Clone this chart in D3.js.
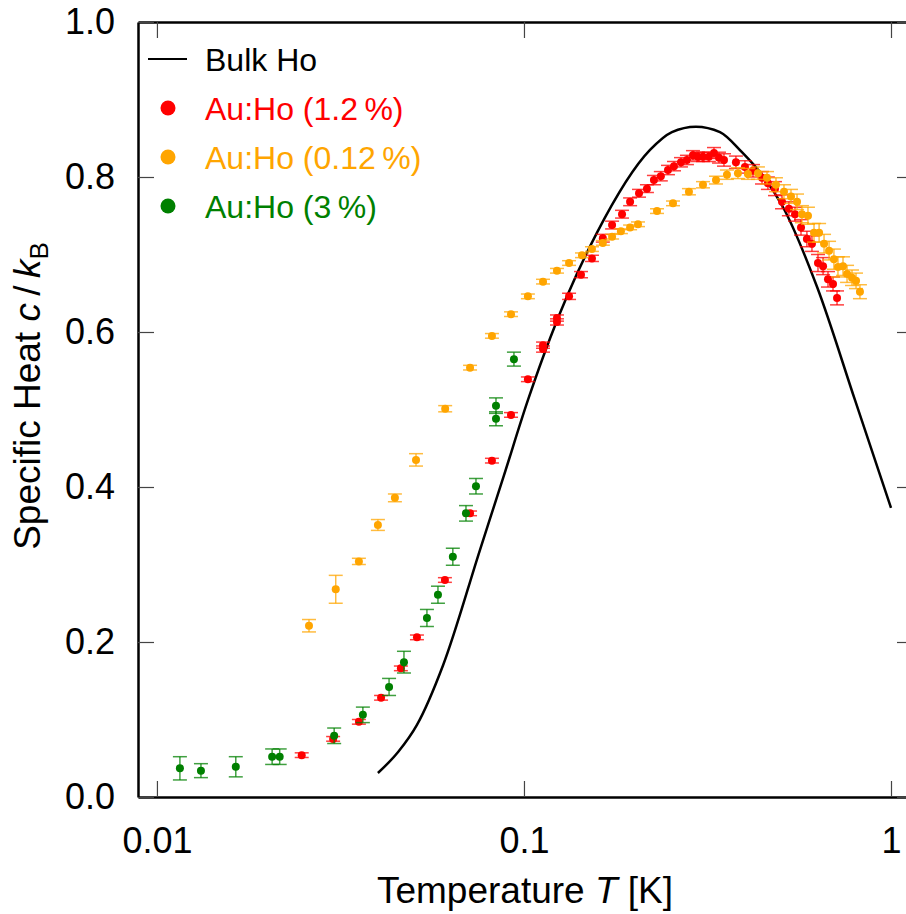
<!DOCTYPE html>
<html>
<head>
<meta charset="utf-8">
<script src="https://cdn.jsdelivr.net/npm/d3@7"></script>
<style>
  body { margin: 0; background: #fff; }
  svg { display: block; font-family: "Liberation Sans", Arial, Helvetica, sans-serif; }
</style>
</head>
<body>
<svg id="chart"></svg>
<script>
// Bulk Ho curve: temperature [K] and c/kB
const bulkT = [0.040, 0.0454, 0.0511, 0.0602, 0.0759, 0.0882, 0.1025, 0.1178, 0.158, 0.2205, 0.253, 0.294, 0.342, 0.3926, 0.445, 0.508, 0.629, 0.798, 1.0];
const bulkC = [0.031, 0.058, 0.093, 0.170, 0.319, 0.415, 0.512, 0.592, 0.728, 0.835, 0.858, 0.865, 0.858, 0.832, 0.803, 0.761, 0.658, 0.512, 0.373];

// Au:Ho (1.2 %) : [T, c, error]
const red12 = [
  [0.0248, 0.054, 0.003], [0.0302, 0.075, 0.003], [0.0355, 0.097, 0.003], [0.0408, 0.128, 0.003],
  [0.0462, 0.166, 0.003], [0.0511, 0.206, 0.003], [0.0609, 0.280, 0.003], [0.0713, 0.366, 0.003],
  [0.0818, 0.434, 0.003], [0.0922, 0.493, 0.003], [0.1025, 0.539, 0.003], [0.1127, 0.583, 0.004],
  [0.1127, 0.578, 0.004], [0.123, 0.618, 0.004], [0.123, 0.613, 0.004], [0.1327, 0.646, 0.004],
  [0.143, 0.674, 0.004], [0.1532, 0.695, 0.004], [0.164, 0.721, 0.005], [0.1738, 0.738, 0.005],
  [0.185, 0.752, 0.005], [0.1946, 0.768, 0.005], [0.2058, 0.779, 0.005], [0.2163, 0.785, 0.005],
  [0.226, 0.796, 0.006], [0.236, 0.801, 0.006], [0.2468, 0.809, 0.006], [0.2563, 0.814, 0.006],
  [0.2678, 0.819, 0.006], [0.278, 0.822, 0.006], [0.2887, 0.828, 0.006], [0.2979, 0.826, 0.006],
  [0.3074, 0.826, 0.006], [0.319, 0.826, 0.006], [0.3294, 0.831, 0.007], [0.3399, 0.825, 0.007],
  [0.3507, 0.822, 0.008], [0.378, 0.819, 0.008], [0.400, 0.813, 0.008], [0.4207, 0.808, 0.008],
  [0.4452, 0.799, 0.008], [0.462, 0.792, 0.008], [0.483, 0.785, 0.009], [0.5047, 0.768, 0.009],
  [0.527, 0.759, 0.009], [0.5476, 0.752, 0.009], [0.5686, 0.735, 0.010], [0.590, 0.720, 0.010],
  [0.609, 0.714, 0.010], [0.6325, 0.689, 0.011], [0.653, 0.685, 0.011], [0.6735, 0.668, 0.010],
  [0.695, 0.662, 0.009], [0.7128, 0.644, 0.009]
];

// Au:Ho (0.12 %) : [T, c, error]
const orange012 = [
  [0.02596, 0.221, 0.008], [0.0307, 0.268, 0.018], [0.0355, 0.304, 0.004], [0.040, 0.351, 0.007],
  [0.0445, 0.386, 0.005], [0.0508, 0.435, 0.008], [0.0610, 0.501, 0.004], [0.0713, 0.554, 0.003],
  [0.0818, 0.595, 0.003], [0.0922, 0.623, 0.003], [0.1025, 0.646, 0.003], [0.1127, 0.665, 0.003],
  [0.123, 0.679, 0.003], [0.1327, 0.689, 0.003], [0.1439, 0.699, 0.003], [0.1532, 0.707, 0.003],
  [0.164, 0.715, 0.003], [0.1738, 0.723, 0.003], [0.1837, 0.730, 0.003], [0.1946, 0.735, 0.003],
  [0.2045, 0.739, 0.003], [0.2304, 0.756, 0.003], [0.2547, 0.766, 0.003], [0.2815, 0.781, 0.004],
  [0.3074, 0.790, 0.004], [0.3336, 0.796, 0.005], [0.3573, 0.803, 0.006], [0.3828, 0.805, 0.007],
  [0.4076, 0.804, 0.007], [0.434, 0.805, 0.008], [0.4594, 0.799, 0.008], [0.486, 0.790, 0.009],
  [0.511, 0.781, 0.009], [0.534, 0.775, 0.009], [0.5546, 0.768, 0.010], [0.572, 0.752, 0.011],
  [0.594, 0.750, 0.011], [0.617, 0.728, 0.012], [0.637, 0.728, 0.012], [0.657, 0.714, 0.012],
  [0.678, 0.705, 0.012], [0.699, 0.694, 0.013], [0.717, 0.684, 0.013], [0.740, 0.685, 0.012],
  [0.759, 0.675, 0.011], [0.783, 0.670, 0.010], [0.803, 0.666, 0.010], [0.823, 0.652, 0.009]
];

// Au:Ho (3 %) : [T, c, error]
const green3 = [
  [0.01155, 0.037, 0.015], [0.01318, 0.034, 0.009], [0.0164, 0.039, 0.013], [0.0206, 0.052, 0.010],
  [0.0216, 0.052, 0.010], [0.0304, 0.079, 0.010], [0.0364, 0.106, 0.010], [0.0429, 0.142, 0.011],
  [0.0471, 0.174, 0.014], [0.0544, 0.231, 0.011], [0.0583, 0.261, 0.011], [0.0640, 0.310, 0.011],
  [0.0695, 0.366, 0.010], [0.074, 0.401, 0.010], [0.0839, 0.505, 0.010], [0.0839, 0.488, 0.009],
  [0.0939, 0.565, 0.009]
];

const xTicks = [0.01, 0.1, 1];
const xTickLabels = ["0.01", "0.1", "1"];
const yTicks = [0, 0.2, 0.4, 0.6, 0.8, 1.0];

const series = [
  { name: "Au:Ho (1.2\u2009%)", color: "#ff0000", data: red12 },
  { name: "Au:Ho (0.12\u2009%)", color: "#ffa500", data: orange012 },
  { name: "Au:Ho (3\u2009%)", color: "#008000", data: green3 }
];

const width = 906, height = 914;
const plotLeft = 138, plotRight = 913, plotTop = 22, plotBottom = 797;

const svg = d3.select("#chart")
  .attr("width", width)
  .attr("height", height);

// x runs a bit past the right edge of the picture, as in the original
const x = d3.scaleLog().domain([0.00888, 1.148]).range([plotLeft, plotRight]);
const y = d3.scaleLinear().domain([0, 1]).range([plotBottom, plotTop]);

// axes with inward ticks
function styleAxis(g) {
  g.select(".domain").attr("stroke", "#000").attr("stroke-width", 2.5);
  g.selectAll(".tick line").attr("stroke", "#444").attr("stroke-width", 1.2);
  g.selectAll(".tick text").attr("fill", "#000").attr("font-size", 36)
    .attr("font-family", "Liberation Sans, Arial, sans-serif");
}

svg.append("g")
  .attr("transform", `translate(0,${plotBottom})`)
  .call(d3.axisBottom(x).tickValues(xTicks).tickSize(-16).tickSizeOuter(0).tickPadding(30)
    .tickFormat((d, i) => xTickLabels[i]))
  .call(styleAxis);

svg.append("g")
  .attr("transform", `translate(0,${plotTop})`)
  .call(d3.axisTop(x).tickValues(xTicks).tickSize(-16).tickSizeOuter(0).tickFormat(""))
  .call(styleAxis);

svg.append("g")
  .attr("transform", `translate(${plotLeft},0)`)
  .call(d3.axisLeft(y).tickValues(yTicks).tickSize(-16).tickSizeOuter(0).tickPadding(23)
    .tickFormat(d3.format(".1f")))
  .call(styleAxis);

svg.append("g")
  .attr("transform", `translate(${plotRight},0)`)
  .call(d3.axisRight(y).tickValues(yTicks).tickSize(-16).tickSizeOuter(0).tickFormat(""))
  .call(styleAxis);

// Bulk Ho line
const line = d3.line()
  .x((d, i) => x(bulkT[i]))
  .y(d => y(d))
  .curve(d3.curveMonotoneX);

svg.append("path")
  .datum(bulkC)
  .attr("fill", "none")
  .attr("stroke", "#000")
  .attr("stroke-width", 2.5)
  .attr("d", line);

// data points with error bars
const capW = 7;
series.forEach(s => {
  const g = svg.append("g").attr("stroke", s.color).attr("fill", s.color);
  const eb = g.selectAll("g.eb")
    .data(s.data)
    .join("g")
    .attr("class", "eb")
    .attr("stroke-width", 1.5)
    .attr("stroke-opacity", 0.75);
  eb.append("line")
    .attr("x1", d => x(d[0])).attr("x2", d => x(d[0]))
    .attr("y1", d => y(d[1] - d[2])).attr("y2", d => y(d[1] + d[2]));
  eb.append("line")
    .attr("x1", d => x(d[0]) - capW).attr("x2", d => x(d[0]) + capW)
    .attr("y1", d => y(d[1] - d[2])).attr("y2", d => y(d[1] - d[2]));
  eb.append("line")
    .attr("x1", d => x(d[0]) - capW).attr("x2", d => x(d[0]) + capW)
    .attr("y1", d => y(d[1] + d[2])).attr("y2", d => y(d[1] + d[2]));
  g.selectAll("circle")
    .data(s.data)
    .join("circle")
    .attr("stroke", "none")
    .attr("cx", d => x(d[0]))
    .attr("cy", d => y(d[1]))
    .attr("r", 4);
});

// legend
const legend = svg.append("g").attr("font-size", 32);
legend.append("line")
  .attr("x1", 148).attr("x2", 187).attr("y1", 59).attr("y2", 59)
  .attr("stroke", "#000").attr("stroke-width", 2);
legend.append("text")
  .attr("x", 205).attr("y", 59).attr("dy", "0.36em")
  .text("Bulk Ho");
series.forEach((s, i) => {
  const ly = 108 + i * 49;
  legend.append("circle").attr("cx", 168).attr("cy", ly).attr("r", 7.5).attr("fill", s.color);
  legend.append("text")
    .attr("x", 205).attr("y", ly).attr("dy", "0.36em")
    .attr("fill", s.color)
    .text(s.name);
});

// axis titles
const xl = svg.append("text")
  .attr("x", 525).attr("y", 903)
  .attr("text-anchor", "middle")
  .attr("font-size", 37);
xl.append("tspan").text("Temperature ");
xl.append("tspan").attr("font-style", "italic").text("T");
xl.append("tspan").text(" [K]");

const yl = svg.append("text")
  .attr("transform", "translate(40,396) rotate(-90)")
  .attr("text-anchor", "middle")
  .attr("font-size", 37);
yl.append("tspan").text("Specific Heat ");
yl.append("tspan").attr("font-style", "italic").text("c");
yl.append("tspan").text("\u2009/\u2009");
yl.append("tspan").attr("font-style", "italic").text("k");
yl.append("tspan").attr("font-size", 26).attr("dy", 8).text("B");
</script>
</body>
</html>
